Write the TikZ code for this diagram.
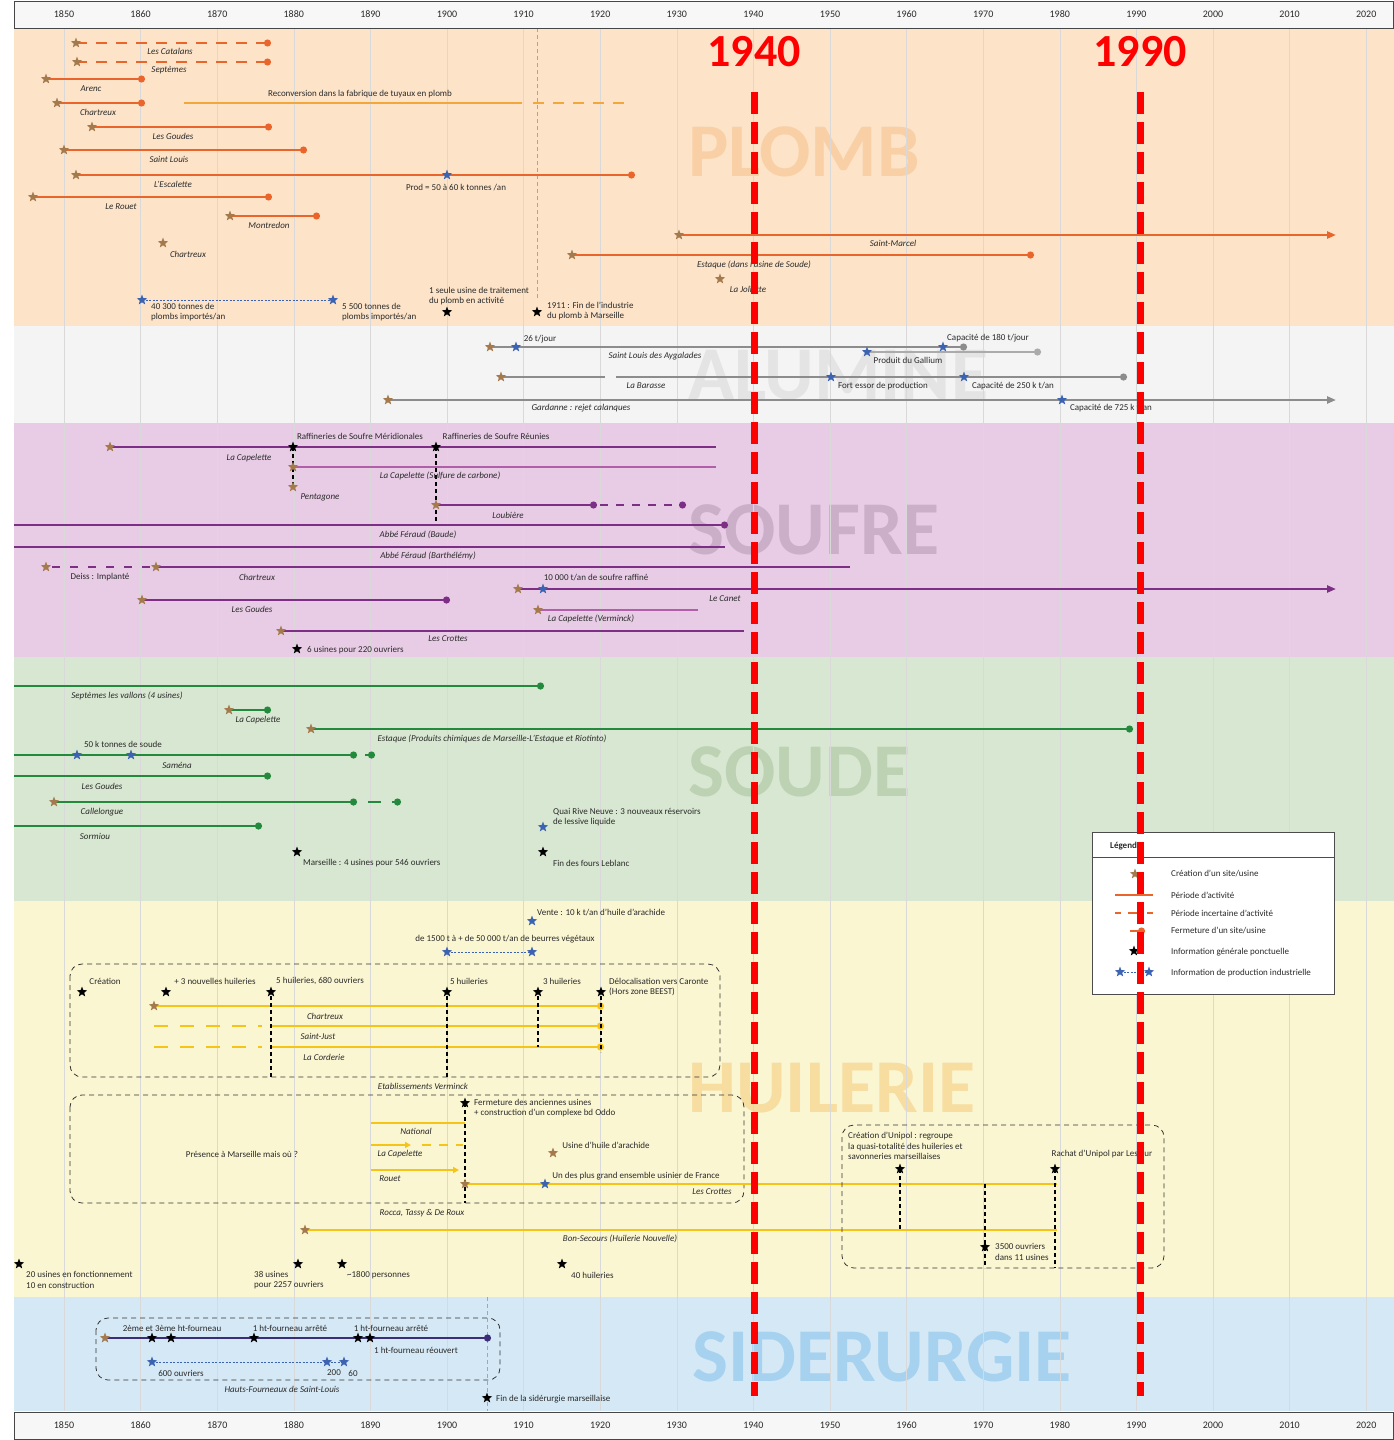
\documentclass[tikz,border=0pt]{standalone}
\usepackage{fontspec}
\setmainfont{Carlito}
\usetikzlibrary{shapes.geometric,arrows.meta}

\definecolor{plombbg}{HTML}{FDE4C9}
\definecolor{alubg}{HTML}{F4F4F4}
\definecolor{soufbg}{HTML}{E8CCE6}
\definecolor{soudbg}{HTML}{D8E7D1}
\definecolor{huilbg}{HTML}{FBF6D2}
\definecolor{sidbg}{HTML}{D4E8F5}
\definecolor{plombwm}{HTML}{F9D0A6}
\definecolor{aluwm}{HTML}{E4E4E4}
\definecolor{soufwm}{HTML}{CBAEC8}
\definecolor{soudwm}{HTML}{BDD2B3}
\definecolor{huilwm}{HTML}{F7DDA0}
\definecolor{sidwm}{HTML}{A6D2F0}
\definecolor{plombcol}{HTML}{E9652C}
\definecolor{reconvcol}{HTML}{F3A73A}
\definecolor{alucol}{HTML}{8C8C8C}
\definecolor{galcol}{HTML}{ABABAB}
\definecolor{soufcol}{HTML}{7D2F85}
\definecolor{souflightcol}{HTML}{B060A8}
\definecolor{soudcol}{HTML}{23893D}
\definecolor{huilcol}{HTML}{F6C417}
\definecolor{sidcol}{HTML}{3B2E78}
\definecolor{crecol}{HTML}{A47A4C}
\definecolor{prodcol}{HTML}{3C63B2}
\definecolor{textcol}{HTML}{2A2A2A}

\begin{document}
\begin{tikzpicture}[x=1pt,y=-1pt]
  \def\X#1{64+(#1-1850)*7.66}
  \tikzset{
    txt/.style={font=\fontsize{9}{10.5}\selectfont, text=textcol, inner sep=0pt, align=left},
    site/.style={txt, font=\fontsize{9}{10.5}\selectfont\itshape},
    wm/.style={font=\fontsize{76}{76}\selectfont\bfseries, inner sep=0pt, anchor=west},
    annee axe/.style={font=\fontsize{10}{10}\selectfont, text=textcol},
    rouge txt/.style={text=red, font=\fontsize{46}{46}\selectfont\bfseries},
    etoile/.style={star, star points=5, star point ratio=2.4, minimum size=11pt, inner sep=0pt},
    creation/.style={etoile, fill=crecol},
    infostar/.style={etoile, fill=black},
    prodstar/.style={etoile, fill=prodcol},
    fin/.style={-{Circle[length=7pt]}},
    fleche/.style={-{Triangle[length=9pt,width=7pt]}},
    tirets/.style={dash pattern=on 11pt off 9pt},
    plomb/.style={plombcol, line width=2.4pt},
    reconv/.style={reconvcol, line width=2.4pt},
    alu/.style={alucol, line width=2.4pt},
    gallium/.style={galcol, line width=2.4pt},
    soufre/.style={soufcol, line width=2.4pt},
    soufre clair/.style={souflightcol, line width=2.4pt},
    soude/.style={soudcol, line width=2.4pt},
    huile/.style={huilcol, line width=2.4pt},
    fonte/.style={sidcol, line width=2.4pt},
    lien/.style={black, line width=1.3pt, dash pattern=on 4pt off 3pt},
    prodlink/.style={prodcol, line width=0.8pt, dash pattern=on 2pt off 1.5pt},
    cadre/.style={black!80, line width=0.8pt, dash pattern=on 5pt off 4pt, rounded corners=12pt},
    guide/.style={gray!70, line width=0.6pt, dash pattern=on 4pt off 3pt},
    grille/.style={gray!30, line width=0.6pt},
    axe/.style={fill=gray!6, draw=gray!55!black, line width=0.8pt},
    rouge/.style={red, line width=7pt, dash pattern=on 22pt off 8pt},
  }
  \useasboundingbox (0,0) rectangle (1394,1440);

  % bandes et filigranes
  \foreach \ya/\yb/\col in {28/326/plombbg,326/423/alubg,423/657/soufbg,657/901/soudbg,901/1297/huilbg,1297/1411/sidbg}
    \fill[\col] (14,\ya) rectangle (1394,\yb);
  \foreach \x/\y/\col/\name in {688/152/plombwm/PLOMB,688/375/aluwm/ALUMINE,688/530/soufwm/SOUFRE,688/772/soudwm/SOUDE,688/1088/huilwm/HUILERIE,692/1357/sidwm/SIDERURGIE}
    \node[wm, text=\col] (wm-\name) at (\x,\y) {\name};
  \foreach \yr in {1850,1860,...,2020}
    \draw[grille] ({\X{\yr}},28) -- ({\X{\yr}},1411);
  \draw[guide] (537,28) -- (537,300);
  \draw[guide] (487,1297) -- (487,1411);

  % axes
  \foreach \ya in {1,1412} {
    \draw[axe] (14,\ya) rectangle (1393,\ya+27);
    \foreach \yr in {1850,1860,...,2020}
      \node[annee axe] (t\ya-\yr) at ({\X{\yr}},\ya+13.5) {\yr};
  }

  % plomb
  \foreach \y in {43,62}
    \draw[plomb, tirets, fin] (76,\y) -- (271,\y);
  \node[site] (catalans) at (170,51) {Les Catalans};
  \node[site] (septemes) at (169,70) {Septèmes};
  \foreach \y/\xa/\xb/\lx/\name [count=\i] in {
      79/46/145/91/Arenc,
      103/57/145/98/Chartreux,
      127/92/272/173/Les Goudes,
      150/64/307/169/Saint Louis,
      175/76/635/173/L’Escalette,
      197/33/272/121/Le Rouet,
      216/230/320/269/Montredon,
      255/572/1034/754/Estaque (dans l’usine de Soude)} {
    \draw[plomb, fin] (\xa,\y) -- (\xb,\y);
    \node[site] (pb\i) at (\lx,\y+9.5) {\name};
  }
  \draw[reconv] (184,103) -- (522,103);
  \draw[reconv, tirets] (533,103) -- (631,103);
  \node[txt] (reconv) at (360,94) {Reconversion dans la fabrique de tuyaux en plomb};
  \draw[plomb, fleche] (679,235) -- (1336,235);
  \node[site] (stmarcel) at (893,243) {Saint-Marcel};
  \node[site] (chartreux2) at (188,254) {Chartreux};
  \node[site] (joliette) at (748,289) {La Joliette};
  \foreach \x/\y [count=\i] in {76/43,77/62,46/79,57/103,92/127,64/150,76/175,33/197,230/216,572/255,163/243,679/235,720/279}
    \node[creation] (pbs\i) at (\x,\y) {};
  \node[prodstar] (escprod) at (447,175) {};
  \node[txt] (prod) at (456,188) {Prod = 50 à 60 k tonnes /an};
  \draw[prodlink] (142,300) -- (333,300);
  \node[prodstar] (imp1) at (142,300) {};
  \node[prodstar] (imp2) at (333,300) {};
  \node[txt, anchor=west] (imp1-lbl) at (151,312) {40 300 tonnes de\\plombs importés/an};
  \node[txt, anchor=west] (imp2-lbl) at (342,312) {5 500 tonnes de\\plombs importés/an};
  \node[infostar] (usine) at (447,312) {};
  \node[txt, anchor=west] (usine-lbl) at (429,296) {1 seule usine de traitement\\du plomb en activité};
  \node[infostar] (fin1911) at (537,312) {};
  \node[txt, anchor=west] (fin1911-lbl) at (547,311) {1911 : Fin de l’industrie\\du plomb à Marseille};

  % alumine
  \draw[alu, fin] (490,347) -- (967,347);
  \draw[gallium, fin] (867,352) -- (1041,352);
  \draw[alu] (501,377) -- (605,377);
  \draw[alu, fin] (616,377) -- (1127,377);
  \draw[alu, fleche] (388,400) -- (1336,400);
  \foreach \x/\y [count=\i] in {490/347,501/377,388/400}
    \node[creation] (al\i) at (\x,\y) {};
  \foreach \x/\y [count=\i] in {516/347,943/347,867/352,831/377,964/377,1062/400}
    \node[prodstar] (alp\i) at (\x,\y) {};
  \node[txt] (al-a) at (540,339) {26 t/jour};
  \node[site] (al-b) at (655,356) {Saint Louis des Aygalades};
  \node[txt] (al-c) at (988,338) {Capacité de 180 t/jour};
  \node[txt] (al-d) at (908,360) {Produit du Gallium};
  \node[site] (al-e) at (646,386) {La Barasse};
  \node[txt] (al-f) at (883,386) {Fort essor de production};
  \node[txt] (al-g) at (1013,386) {Capacité de 250 k t/an};
  \node[site] (al-h) at (581,408) {Gardanne : rejet calanques};
  \node[txt] (al-i) at (1111,408) {Capacité de 725 k t/an};

  % soufre
  \draw[soufre] (110,447) -- (716,447);
  \draw[lien] (293,447) -- (293,487);
  \draw[lien] (436,447) -- (436,525);
  \draw[soufre clair] (293,467) -- (716,467);
  \draw[soufre, fin] (436,505) -- (597,505);
  \draw[soufre, dash pattern=on 8pt off 8pt, fin] (600,505) -- (686,505);
  \draw[soufre, fin] (14,525) -- (728,525);
  \draw[soufre] (14,547) -- (725,547);
  \draw[soufre, dash pattern=on 8pt off 10pt] (52,567) -- (156,567);
  \draw[soufre] (156,567) -- (850,567);
  \draw[soufre, fleche] (518,589) -- (1336,589);
  \draw[soufre, fin] (142,600) -- (450,600);
  \draw[soufre clair] (538,610) -- (698,610);
  \draw[soufre] (281,631) -- (744,631);
  \foreach \x/\y [count=\i] in {110/447,293/467,293/487,436/505,46/567,156/567,518/589,142/600,538/610,281/631}
    \node[creation] (sf\i) at (\x,\y) {};
  \node[infostar] (rsm) at (293,447) {};
  \node[infostar] (rsr) at (436,447) {};
  \node[prodstar] (canet-p) at (543,589) {};
  \node[txt] (rsm-lbl) at (360,436) {Raffineries de Soufre Méridionales};
  \node[txt] (rsr-lbl) at (496,436) {Raffineries de Soufre Réunies};
  \node[site] (sf-a) at (249,458) {La Capelette};
  \node[site] (sf-b) at (440,476) {La Capelette (Sulfure de carbone)};
  \node[site] (sf-c) at (320,497) {Pentagone};
  \node[site] (sf-d) at (508,515) {Loubière};
  \node[site] (sf-e) at (418,535) {Abbé Féraud (Baude)};
  \node[site] (sf-f) at (428,556) {Abbé Féraud (Barthélémy)};
  \node[txt] (sf-g) at (100,577) {Deiss : Implanté};
  \node[site] (sf-h) at (257,577) {Chartreux};
  \node[txt] (sf-i) at (596,578) {10 000 t/an de soufre raffiné};
  \node[site] (sf-j) at (725,599) {Le Canet};
  \node[site] (sf-k) at (252,609) {Les Goudes};
  \node[site] (sf-l) at (591,619) {La Capelette (Verminck)};
  \node[site] (sf-m) at (448,639) {Les Crottes};
  \node[infostar] (six) at (297,649) {};
  \node[txt, anchor=west] (six-lbl) at (307,650) {6 usines pour 220 ouvriers};

  % soude
  \foreach \y/\xa/\xb/\lx/\name [count=\i] in {
      686/14/544/127/Septèmes les vallons (4 usines),
      710/229/271/258/La Capelette,
      729/311/1133/492/Estaque (Produits chimiques de Marseille-L’Estaque et Riotinto),
      755/14/357/177/Saména,
      776/14/271/102/Les Goudes,
      802/54/357/102/Callelongue,
      826/14/262/95/Sormiou} {
    \draw[soude, fin] (\xa,\y) -- (\xb,\y);
    \node[site] (sd\i) at (\lx,\y+10) {\name};
  }
  \draw[soude, fin] (365,755) -- (375,755);
  \draw[soude] (368,802) -- (381,802);
  \draw[soude, fin] (392,802) -- (401,802);
  \foreach \x/\y [count=\i] in {229/710,311/729,54/802}
    \node[creation] (sds\i) at (\x,\y) {};
  \foreach \x/\y [count=\i] in {77/755,131/755,543/827}
    \node[prodstar] (sdp\i) at (\x,\y) {};
  \node[txt] (soude50) at (123,744) {50 k tonnes de soude};
  \node[txt, anchor=west] (quai) at (553,817) {Quai Rive Neuve : 3 nouveaux réservoirs\\de lessive liquide};
  \node[infostar] (msl) at (297,852) {};
  \node[txt, anchor=west] (msl-lbl) at (303,863) {Marseille : 4 usines pour 546 ouvriers};
  \node[infostar] (leblanc) at (543,852) {};
  \node[txt, anchor=west] (leblanc-lbl) at (553,863) {Fin des fours Leblanc};

  % huilerie
  \node[prodstar] (vente) at (532,921) {};
  \node[txt, anchor=west] (vente-lbl) at (537,913) {Vente : 10 k t/an d’huile d’arachide};
  \draw[prodlink] (447,952) -- (532,952);
  \node[prodstar] (beurre1) at (447,952) {};
  \node[prodstar] (beurre2) at (532,952) {};
  \node[txt] (beurre-lbl) at (505,939) {de 1500 t à + de 50 000 t/an de beurres végétaux};

  \draw[cadre] (70,964) rectangle (720,1077);
  \node[site] (verminck) at (423,1086) {Etablissements Verminck};
  \draw[huile, fin] (154,1006) -- (604,1006);
  \foreach \y in {1026,1047} {
    \draw[huile, dash pattern=on 14pt off 12pt] (154,\y) -- (262,\y);
    \draw[huile, fin] (271,\y) -- (604,\y);
  }
  \foreach \x/\yb in {271/1077,447/1077,538/1047,601/1052}
    \draw[lien] (\x,996) -- (\x,\yb);
  \node[creation] (chx) at (154,1006) {};
  \node[site] (hu1) at (325,1016) {Chartreux};
  \node[site] (hu2) at (318,1036) {Saint-Just};
  \node[site] (hu3) at (324,1057) {La Corderie};
  \foreach \x [count=\i] in {82,166,271,447,538,601}
    \node[infostar] (hv\i) at (\x,992) {};
  \node[txt] (hv1-lbl) at (105,981) {Création};
  \node[txt] (hv2-lbl) at (215,981) {+ 3 nouvelles huileries};
  \node[txt] (hv3-lbl) at (320,981) {5 huileries, 680 ouvriers};
  \node[txt] (hv4-lbl) at (469,981) {5 huileries};
  \node[txt] (hv5-lbl) at (562,981) {3 huileries};
  \node[txt, anchor=west] (hv6-lbl) at (609,987) {Délocalisation vers Caronte\\(Hors zone BEEST)};

  \draw[cadre] (70,1095) rectangle (744,1203);
  \node[site] (rocca) at (422,1213) {Rocca, Tassy \& De Roux};
  \node[txt] (presence) at (242,1154) {Présence à Marseille mais où ?};
  \draw[huile] (371,1123) -- (465,1123);
  \draw[huile, -{Triangle[length=6pt,width=6pt]}] (371,1145) -- (411,1145);
  \draw[huile, dash pattern=on 9pt off 8pt] (422,1145) -- (463,1145);
  \draw[huile, -{Triangle[length=6pt,width=6pt]}] (371,1170) -- (459,1170);
  \draw[huile] (465,1184) -- (1057,1184);
  \draw[huile] (305,1230) -- (1057,1230);
  \draw[lien] (465,1103) -- (465,1203);
  \node[site] (national) at (416,1131) {National};
  \node[site] (capelette-h) at (400,1154) {La Capelette};
  \node[site] (rouet) at (390,1179) {Rouet};
  \node[infostar] (oddo) at (465,1103) {};
  \node[txt, anchor=west] (oddo-lbl) at (474,1108) {Fermeture des anciennes usines\\+ construction d’un complexe bd Oddo};
  \node[creation] (arachide) at (553,1153) {};
  \node[txt] (arachide-lbl) at (606,1145) {Usine d’huile d’arachide};
  \node[creation] (crottes) at (465,1184) {};
  \node[prodstar] (crottes-p) at (545,1184) {};
  \node[txt] (ensemble) at (636,1176) {Un des plus grand ensemble usinier de France};
  \node[site] (crottes-lbl) at (712,1192) {Les Crottes};
  \node[creation] (bonsec) at (305,1230) {};
  \node[site] (bonsec-lbl) at (620,1239) {Bon-Secours (Huilerie Nouvelle)};

  \draw[cadre] (842,1125) rectangle (1164,1268);
  \draw[lien] (900,1169) -- (900,1230);
  \draw[lien] (1055,1169) -- (1055,1268);
  \draw[lien] (985,1184) -- (985,1268);
  \node[txt, anchor=west] (unipol) at (848,1146) {Création d’Unipol : regroupe\\la quasi-totalité des huileries et\\savonneries marseillaises};
  \node[infostar] (unipol-s) at (900,1169) {};
  \node[infostar] (lesieur) at (1055,1169) {};
  \node[txt] (lesieur-lbl) at (1102,1154) {Rachat d’Unipol par Lesieur};
  \node[infostar] (ouvriers) at (985,1247) {};
  \node[txt, anchor=west] (ouvriers-lbl) at (995,1252) {3500 ouvriers\\dans 11 usines};

  \node[infostar] (h20) at (19,1264) {};
  \node[txt, anchor=west] (h20-lbl) at (26,1280) {20 usines en fonctionnement\\10 en construction};
  \node[infostar] (h38) at (298,1264) {};
  \node[txt, anchor=west] (h38-lbl) at (254,1280) {38 usines\\pour 2257 ouvriers};
  \node[infostar] (h1800) at (342,1264) {};
  \node[txt, anchor=west] (h1800-lbl) at (347,1275) {\textasciitilde 1800 personnes};
  \node[infostar] (h40) at (562,1264) {};
  \node[txt, anchor=west] (h40-lbl) at (571,1275) {40 huileries};

  % siderurgie
  \draw[cadre] (96,1318) rectangle (500,1380);
  \node[site] (hf) at (282,1389) {Hauts-Fourneaux de Saint-Louis};
  \draw[fonte, fin] (105,1338) -- (491,1338);
  \node[creation] (hf0) at (105,1338) {};
  \foreach \x [count=\i] in {152,171,254,358,370}
    \node[infostar] (hf\i) at (\x,1338) {};
  \node[txt] (hf-a) at (172,1328) {2ème et 3ème ht-fourneau};
  \node[txt] (hf-b) at (290,1328) {1 ht-fourneau arrêté};
  \node[txt] (hf-c) at (391,1328) {1 ht-fourneau arrêté};
  \node[txt] (hf-d) at (416,1350) {1 ht-fourneau réouvert};
  \draw[prodlink] (152,1362) -- (344,1362);
  \foreach \x [count=\i] in {152,327,344}
    \node[prodstar] (hp\i) at (\x,1362) {};
  \node[txt] (hp-a) at (181,1373) {600 ouvriers};
  \node[txt] (hp-b) at (334,1373) {200};
  \node[txt] (hp-c) at (353,1373) {60};
  \node[infostar] (finsid) at (487,1398) {};
  \node[txt, anchor=west] (finsid-lbl) at (496,1399) {Fin de la sidérurgie marseillaise};

  % legende
  \draw[fill=white, draw=gray!60!black, line width=0.8pt] (1092,832) rectangle (1334,994);
  \draw[gray!60!black, line width=0.6pt] (1092,857) -- (1334,857);
  \node[txt, font=\fontsize{9}{10.5}\selectfont\bfseries, anchor=west] (legende) at (1110,846) {Légende};
  \node[creation] (leg1) at (1135,874) {};
  \draw[plomb] (1115,895) -- (1153,895);
  \draw[plomb, dash pattern=on 6pt off 7pt on 12pt off 7pt] (1115,913) -- (1153,913);
  \draw[plomb, fin] (1130,931) -- (1145,931);
  \node[infostar] (leg5) at (1134,951) {};
  \draw[prodlink] (1120,972) -- (1149,972);
  \node[prodstar] (leg6a) at (1120,972) {};
  \node[prodstar] (leg6b) at (1149,972) {};
  \node[txt, anchor=west] (leg1-lbl) at (1171,874) {Création d’un site/usine};
  \node[txt, anchor=west] (leg2-lbl) at (1171,895) {Période d’activité};
  \node[txt, anchor=west] (leg3-lbl) at (1171,913) {Période incertaine d’activité};
  \node[txt, anchor=west] (leg4-lbl) at (1171,931) {Fermeture d’un site/usine};
  \node[txt, anchor=west] (leg5-lbl) at (1171,952) {Information générale ponctuelle};
  \node[txt, anchor=west] (leg6-lbl) at (1171,973) {Information de production industrielle};

  % reperes 1940 et 1990
  \foreach \x/\yr in {754/1940,1140/1990} {
    \draw[rouge] (\x,92) -- (\x,1396);
    \node[rouge txt] (r\yr) at (\x,52) {\yr};
  }
\end{tikzpicture}
\end{document}
